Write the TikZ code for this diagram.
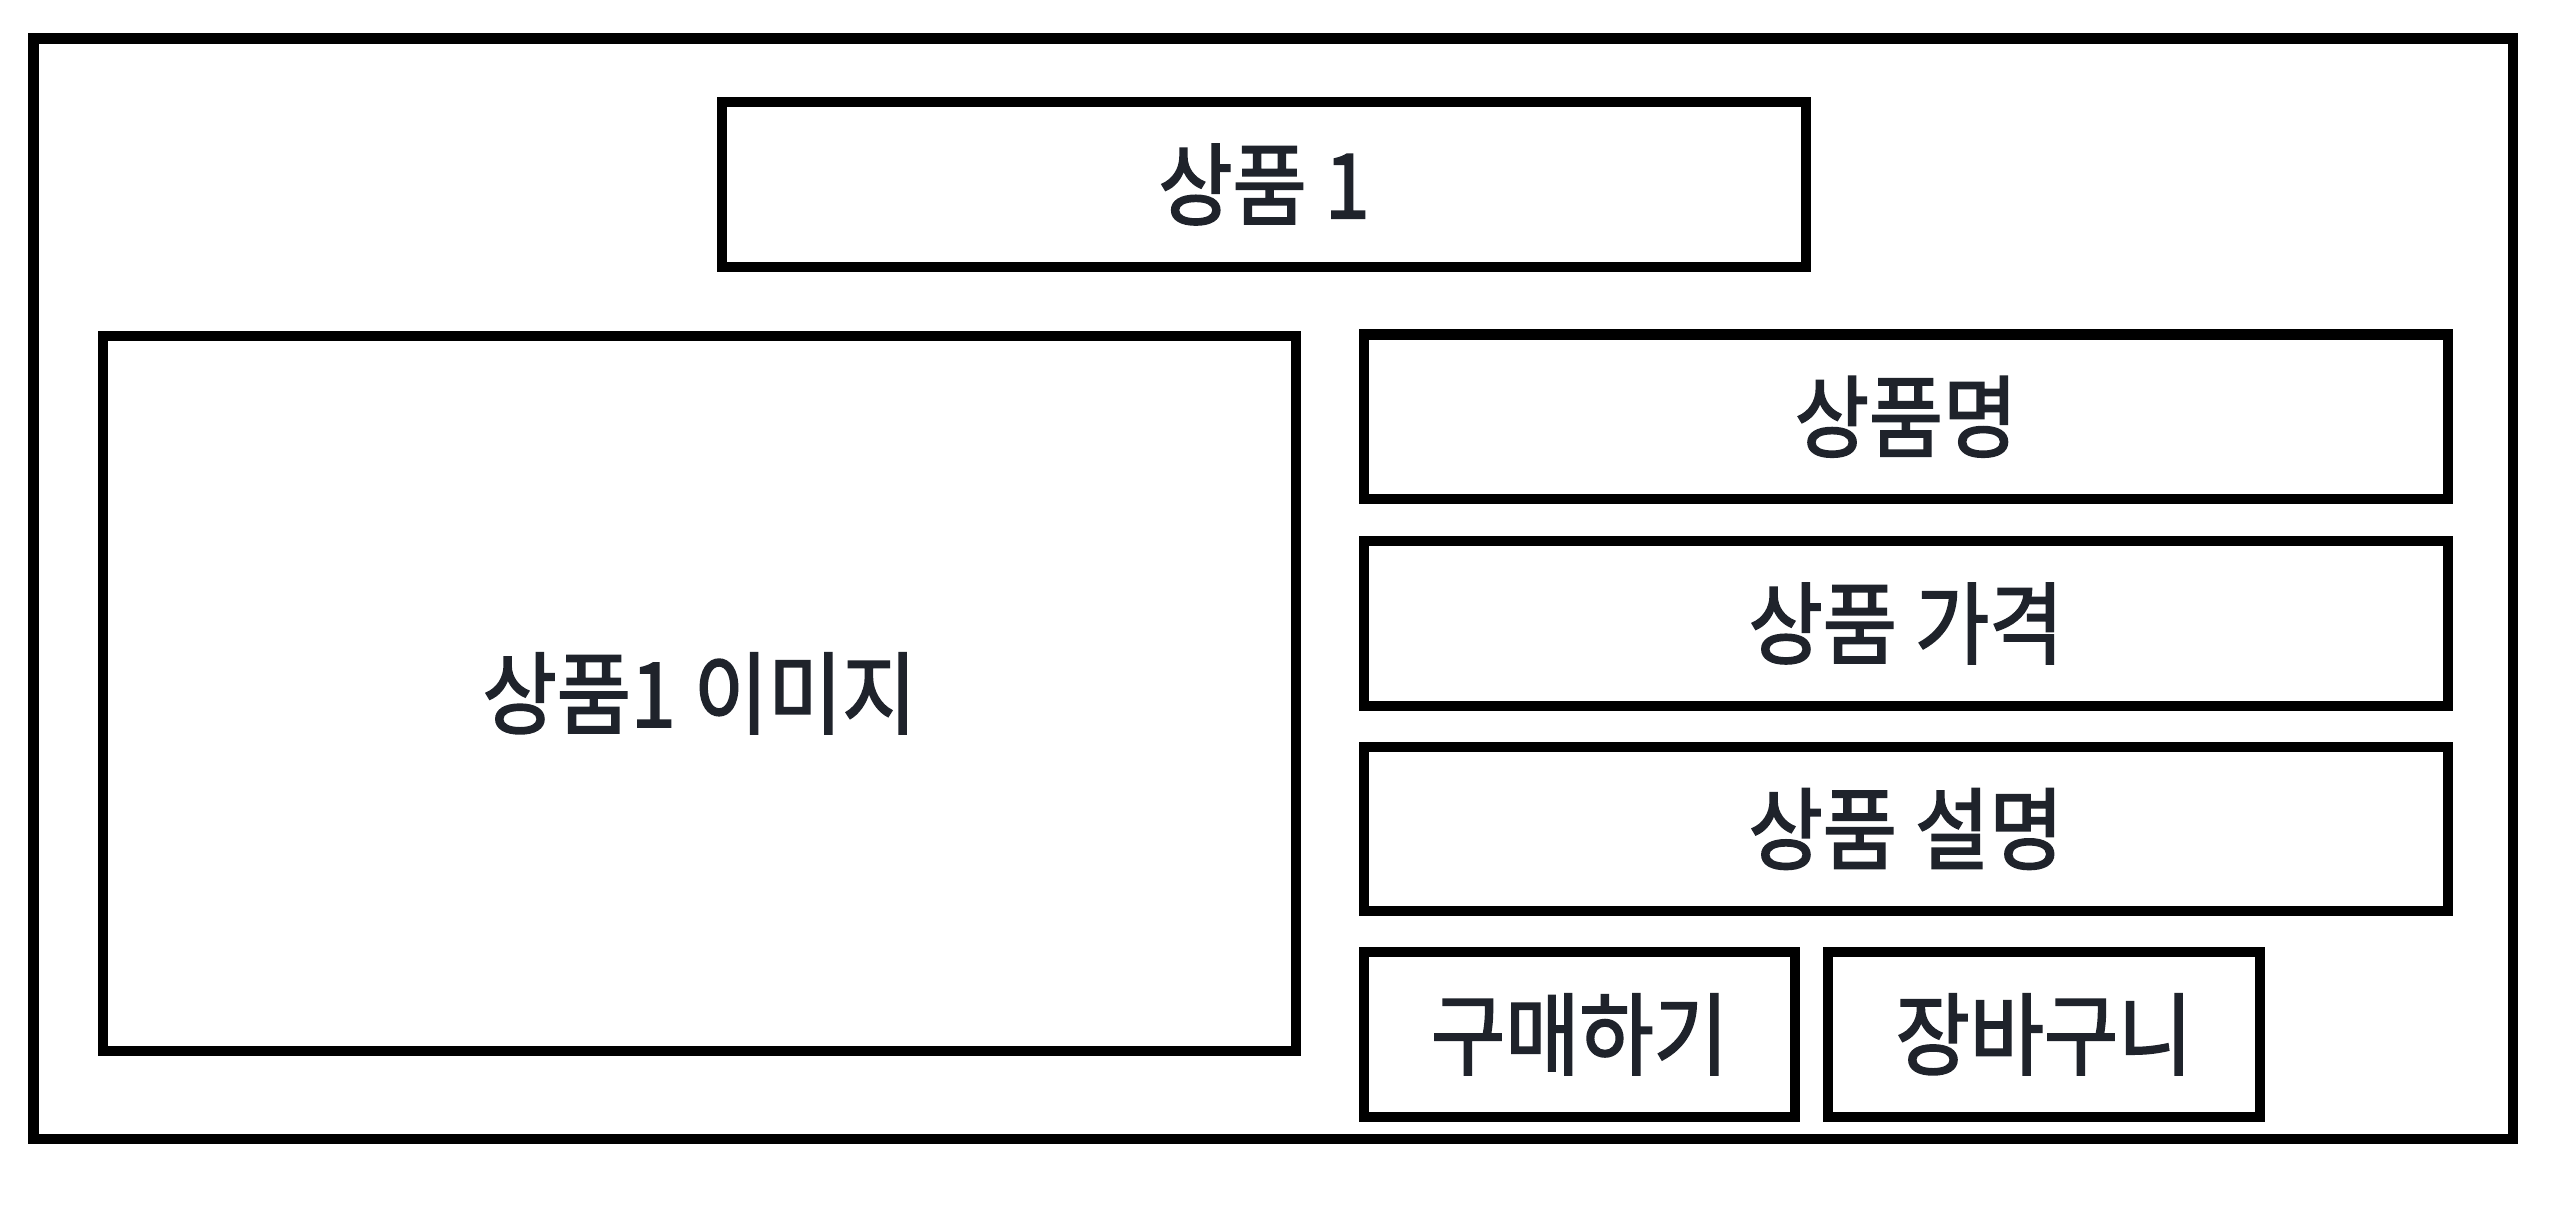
\documentclass[tikz,border=0pt]{standalone}
\usepackage{fontspec}
\setmainfont{Noto Sans CJK KR}[FakeStretch=0.9, FakeBold=2]
\definecolor{ink}{HTML}{1F232B}
\tikzset{
  box/.style={draw=black, line width=3pt, fill=white, rectangle, inner sep=0pt,
    text=ink, font=\fontsize{25.5pt}{29pt}\selectfont},
}
\begin{document}
\begin{tikzpicture}[x=1cm,y=-1cm]
\useasboundingbox[fill=white] (0,0) rectangle (25.61,12.05);
\node[box, minimum width=24.795cm, minimum height=11.005cm] (frame) at (12.7325,5.8875) {};
\node[box, minimum width=10.84cm, minimum height=1.65cm] (title) at (12.64,1.845) {상품 1};
\node[box, minimum width=11.93cm, minimum height=7.15cm] (image) at (6.995,6.935) {상품1 이미지};
\node[box, minimum width=10.84cm, minimum height=1.645cm] (name) at (19.06,4.1675) {상품명};
\node[box, minimum width=10.84cm, minimum height=1.65cm] (price) at (19.06,6.235) {상품 가격};
\node[box, minimum width=10.84cm, minimum height=1.64cm] (desc) at (19.06,8.29) {상품 설명};
\node[box, minimum width=4.31cm, minimum height=1.65cm] (buy) at (15.795,10.345) {구매하기};
\node[box, minimum width=4.32cm, minimum height=1.65cm] (cart) at (20.44,10.345) {장바구니};
\end{tikzpicture}
\end{document}
